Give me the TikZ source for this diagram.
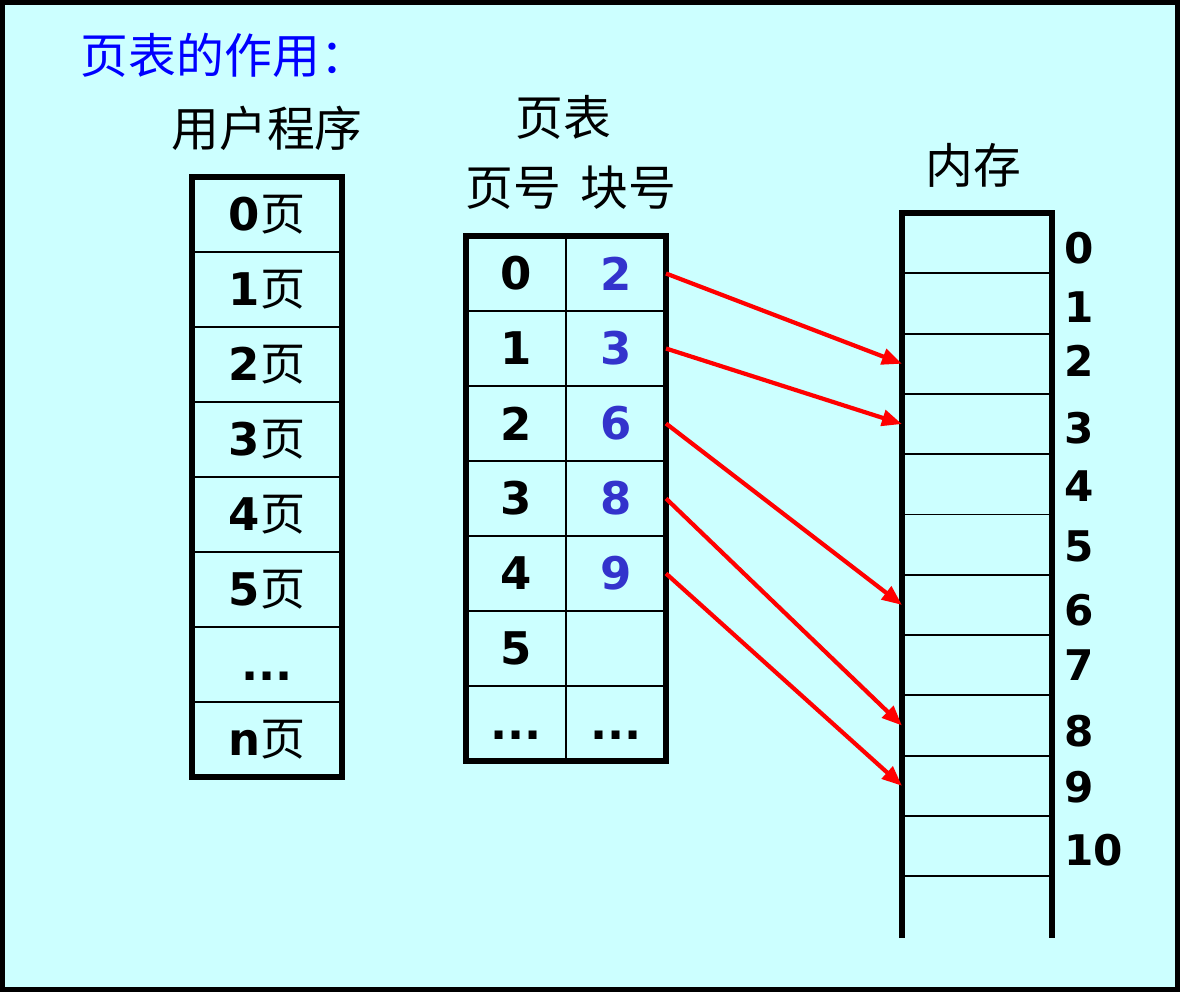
\documentclass[tikz,border=0pt]{standalone}
\usepackage{fontspec}
\newfontfamily\cjk{Noto Sans CJK SC}
\newfontfamily\numfont{DejaVu Sans}
\usetikzlibrary{arrows.meta}
\definecolor{panelbg}{HTML}{CCFFFF}
\definecolor{blocknum}{HTML}{3333CC}
\definecolor{titleblue}{HTML}{0000FF}
\definecolor{linkred}{HTML}{FF0000}
\newcommand{\pg}[1]{{\numfont\bfseries #1}{\cjk\mdseries 页}}
\newcommand{\dts}{{\color{black}\numfont\bfseries\vphantom{0}...}}

\tikzset{
  ucell/.style={draw, line width=1.4pt, inner sep=0pt, outer sep=0pt,
    minimum width=3.75cm, minimum height=1.875cm,
    font=\numfont\bfseries\fontsize{32}{36}\selectfont},
  pcell/.style={ucell, minimum width=2.5cm},
  mcell/.style={draw, line width=1.4pt, inner sep=0pt, outer sep=0pt,
    minimum width=3.75cm, minimum height=1.5075cm},
  wall/.style={line width=3.6pt},
  head/.style={font=\cjk\fontsize{34}{38}\selectfont},
  memlabel/.style={anchor=west, inner sep=0pt, font=\numfont\bfseries\fontsize{30}{34}\selectfont},
  link/.style={draw=linkred, line width=3pt, -{Triangle[length=0.5cm, width=0.4cm]}}
}

\begin{document}
\begin{tikzpicture}[x=0.025cm, y=-0.025cm]
  \useasboundingbox (0,0) rectangle (1180,992);
  \draw[fill=panelbg, line width=3.6pt] (2.5,2.5) rectangle (1177.5,989.5);

  % headings
  \node[head, text=titleblue, anchor=west] (title) at (76,55) {页表的作用：};
  \node[head] (uhead) at (267,128) {用户程序};
  \node[head] (phead) at (563,117) {页表};
  \node[head] (pnhead) at (513,188) {页号};
  \node[head] (bnhead) at (628,188) {块号};
  \node[head] (mhead) at (973,165) {内存};

  % user program
  \foreach \t [count=\i from 0] in {\pg{0},\pg{1},\pg{2},\pg{3},\pg{4},\pg{5},\dts,\pg{n}}{
    \node[ucell] (u\i) at (267,{214.5+75*\i}) {\t};}
  \draw[wall] (u0.north west) rectangle (u7.south east);

  % page table
  \foreach \p/\b [count=\i from 0] in {0/2,1/3,2/6,3/8,4/9,5/{},\dts/\dts}{
    \node[pcell] (pn\i) at (516,{273.5+75*\i}) {\p};
    \node[pcell, text=blocknum] (bn\i) at (616,{273.5+75*\i}) {\b};}
  \draw[wall] (pn0.north west) rectangle (bn6.south east);

  % memory
  \foreach \i in {0,...,10}{
    \node[mcell] (m\i) at (977,{243.15+60.3*\i}) {};}
  \draw[wall] (902,938) -- (902,213) -- (1052,213) -- (1052,938);
  \foreach \k/\y in {0/248,1/307,2/361,3/428,4/486,5/546,6/610,7/665,8/731,9/787,10/850}{
    \node[memlabel] (ml\k) at (1064,\y) {\k};}

  % page -> block
  \foreach \s/\t in {0/2,1/3,2/6,3/8,4/9}{
    \draw[link] (bn\s.east) -- (m\t.west);}
\end{tikzpicture}
\end{document}
